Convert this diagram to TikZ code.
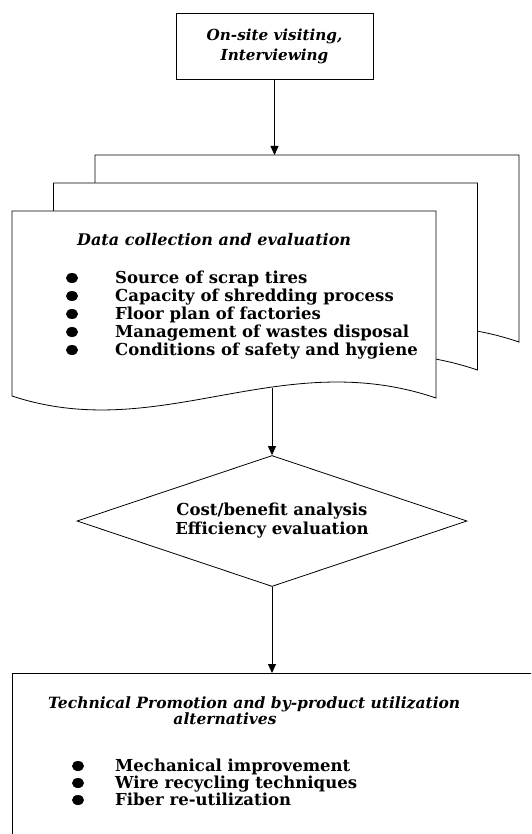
\documentclass[tikz,border=0pt]{standalone}
\usepackage{fontspec}
\setmainfont{DejaVu Serif}
\usetikzlibrary{arrows.meta,shapes.geometric}
\newcommand\mydoc[2]{%
  \begin{scope}[shift={(#1,#2)}]
    \draw[docshape] (0,0) -- (424,0) -- (424,187)
      .. controls (268,134) and (148,234) .. (0,185) -- cycle;
  \end{scope}}
\begin{document}
\begin{tikzpicture}[x=1pt,y=-1pt,
  thin line/.style={line width=0.8pt},
  arr/.style={line width=0.8pt,-{Triangle[length=9pt,width=8pt]}},
  docshape/.style={line width=0.8pt, fill=white},
  body/.style={font=\fontsize{16.5}{19}\selectfont\bfseries, inner sep=0pt},
  head/.style={font=\fontsize{16}{19}\selectfont\bfseries\itshape, inner sep=0pt},
  bul/.style={fill=black, ellipse, minimum width=12pt, minimum height=10pt, inner sep=0pt}]
\useasboundingbox (0,0) rectangle (531,834);
\clip (0,0) rectangle (531,834);

% top box
\node[draw, thin line, minimum width=197pt, minimum height=66pt, inner sep=0pt,
      align=center, font=\fontsize{15.2}{20}\selectfont\bfseries\itshape] (top) at (274.5,46)
      {On-site visiting,\\Interviewing};

% stacked documents
\mydoc{95}{155}
\mydoc{53.5}{183}
\mydoc{12}{211}
\coordinate (backtop) at (274.5,155);
\coordinate (frontbot) at (272,387.5);

\node[head, anchor=base west] (h1) at (77,245) {Data collection and evaluation};
\foreach \t [count=\i] in {Source of scrap tires, Capacity of shredding process,
    Floor plan of factories, Management of wastes disposal,
    Conditions of safety and hygiene} {
  \node[bul] (b\i) at (72,{278+18*(\i-1)}) {};
  \node[body, anchor=base west] (it\i) at (115,{283+18*(\i-1)}) {\t};
}

% decision
\node[diamond, draw, thin line, aspect=3, minimum width=390pt, minimum height=131pt,
      inner sep=0pt, align=center, font=\fontsize{16.5}{19}\selectfont\bfseries] (dia) at (272,521)
      {Cost/benefit analysis\\Efficiency evaluation};

% bottom box
\node[draw, thin line, anchor=north west, minimum width=600pt, minimum height=300pt] (tp) at (12,673) {};
\node[head, font=\fontsize{15.5}{19}\selectfont\bfseries\itshape, anchor=base west] (h2) at (48,708)
      {Technical Promotion and by-product utilization};
\node[head, font=\fontsize{15.5}{19}\selectfont\bfseries\itshape, anchor=base] (h3) at (225,724) {alternatives};
\foreach \t [count=\i] in {Mechanical improvement, Wire recycling techniques, Fiber re-utilization} {
  \node[bul] (c\i) at (78,{766+17*(\i-1)}) {};
  \node[body, anchor=base west] (jt\i) at (115,{771+17*(\i-1)}) {\t};
}

% connectors
\draw[arr] (top.south) -- (backtop);
\draw[arr] (frontbot) -- (dia.north);
\draw[arr] (dia.south) -- (dia.south |- tp.north);
\end{tikzpicture}
\end{document}
